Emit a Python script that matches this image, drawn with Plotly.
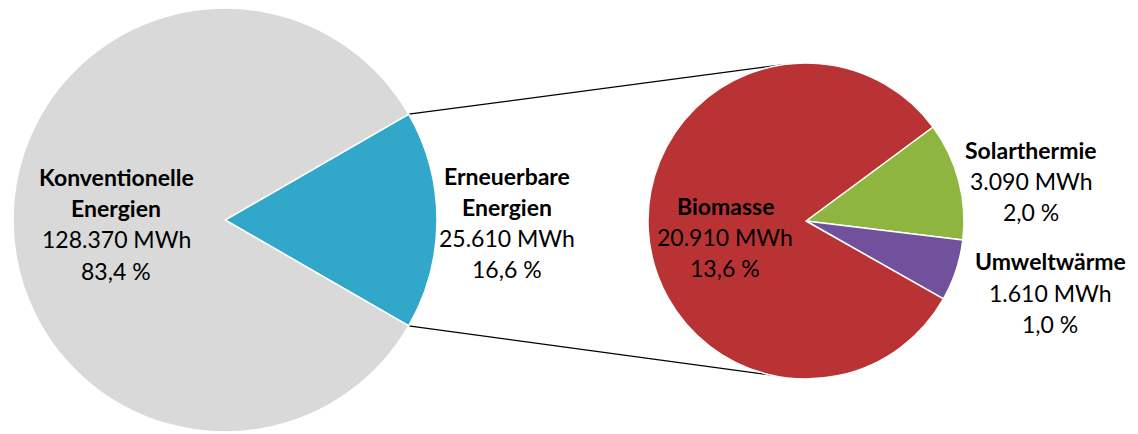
import math
import plotly.graph_objects as go

# ---------------- data ----------------
main_labels = ["Erneuerbare Energien", "Konventionelle Energien"]
main_values = [25610, 128370]
sub_labels = ["Solarthermie", "Umweltwärme", "Biomasse"]
sub_values = [3090, 1610, 20910]

# ---------------- style ----------------
W, H = 1138, 434
FONT = "Lato"
FS = 23
main_colors = ["#31a8c9", "#d9d9d9"]
sub_colors = ["#8db53f", "#71519b", "#b93334"]

# geometry (pixels)
main_c = (225, 220)
main_r = 212
sub_c = (806, 221)
sub_r = 158
sub_rotation = 53.5

total = sum(main_values)


def de_num(v):
    return f"{v:,}".replace(",", ".")


def de_pct(v):
    return f"{100 * v / total:.1f} %".replace(".", ",")


def px_domain(c, r):
    cx, cy = c
    return dict(
        x=[(cx - r) / W, (cx + r) / W],
        y=[1 - (cy + r) / H, 1 - (cy - r) / H],
    )


renew_angle = 360 * main_values[0] / total
main_rotation = 90 - renew_angle / 2

fig = go.Figure()
fig.add_trace(go.Pie(
    labels=main_labels, values=main_values, sort=False, direction="clockwise",
    rotation=main_rotation, domain=px_domain(main_c, main_r),
    marker=dict(colors=main_colors, line=dict(color="white", width=1.5)),
    textinfo="none", hoverinfo="label+value", showlegend=False,
))
fig.add_trace(go.Pie(
    labels=sub_labels, values=sub_values, sort=False, direction="clockwise",
    rotation=sub_rotation, domain=px_domain(sub_c, sub_r),
    marker=dict(colors=sub_colors, line=dict(color="white", width=1.5)),
    textinfo="none", hoverinfo="label+value", showlegend=False,
))

# connector lines: from the edges of the renewable slice to the secondary pie
half = math.radians(renew_angle / 2)
p_top = (main_c[0] + main_r * math.cos(half), main_c[1] - main_r * math.sin(half))
p_bot = (main_c[0] + main_r * math.cos(half), main_c[1] + main_r * math.sin(half))
a_top = math.radians(98)
a_bot = math.radians(-103)
q_top = (sub_c[0] + sub_r * math.cos(a_top), sub_c[1] - sub_r * math.sin(a_top))
q_bot = (sub_c[0] + sub_r * math.cos(a_bot), sub_c[1] - sub_r * math.sin(a_bot))
for p, q in [(p_top, q_top), (p_bot, q_bot)]:
    fig.add_shape(type="line", xref="paper", yref="paper",
                  x0=p[0] / W, y0=1 - p[1] / H, x1=q[0] / W, y1=1 - q[1] / H,
                  line=dict(color="black", width=1.3), layer="below")

# labels: (bold lines, value, x center, first line y, line step)
label_specs = [
    (["Konventionelle", "Energien"], main_values[1], 116, 177, 31.2),
    (["Erneuerbare", "Energien"], main_values[0], 507, 176, 31.0),
    (["Biomasse"], sub_values[2], 725, 206, 31.0),
    (["Solarthermie"], sub_values[0], 1031, 150, 31.0),
    (["Umweltwärme"], sub_values[1], 1050, 261, 31.5),
]
for bold_lines, val, x, y0, step in label_specs:
    lines = [f"<b>{t}</b>" for t in bold_lines] + [f"{de_num(val)} MWh", de_pct(val)]
    for i, t in enumerate(lines):
        fig.add_annotation(
            text=t, x=x / W, y=1 - (y0 + i * step) / H, xref="paper", yref="paper",
            xanchor="center", yanchor="middle", showarrow=False,
            font=dict(family=FONT, size=FS, color="black"),
        )

fig.update_layout(
    width=W, height=H, margin=dict(l=0, r=0, t=0, b=0),
    paper_bgcolor="white", plot_bgcolor="white",
)
fig.write_html("out.html", config={"displayModeBar": False},
               post_script="document.body.style.margin='0';")
